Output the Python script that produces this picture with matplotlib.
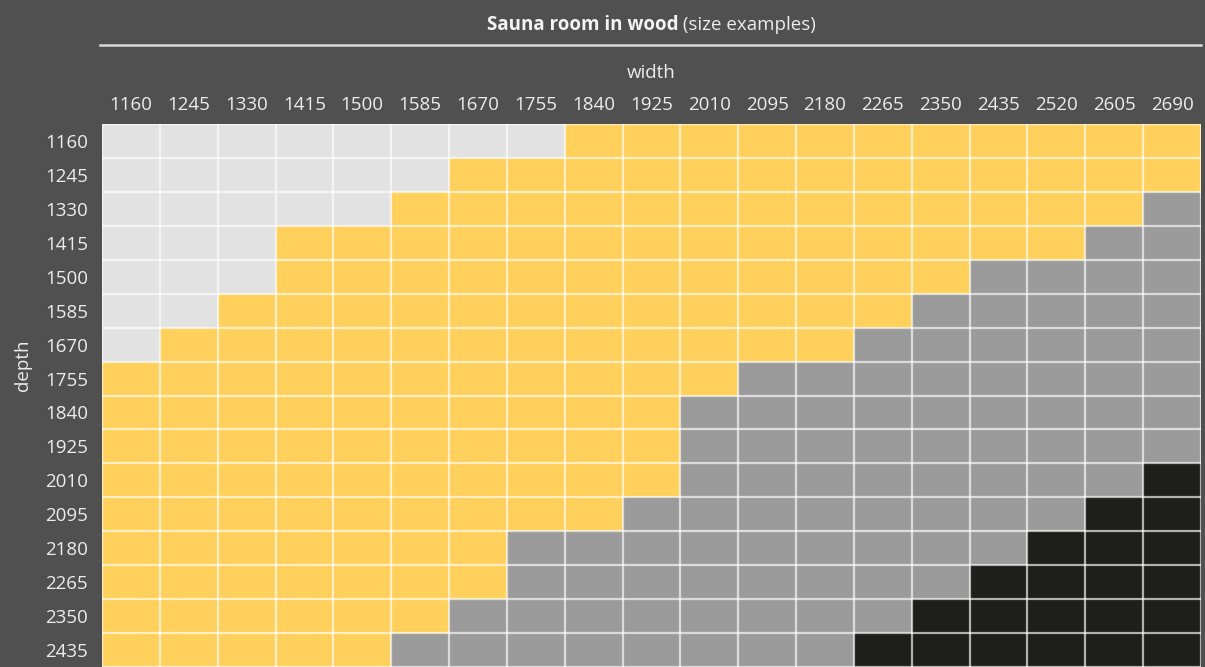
import matplotlib
matplotlib.use("Agg")
import matplotlib.pyplot as plt
import numpy as np
from matplotlib.colors import ListedColormap
from matplotlib.lines import Line2D

# ---- data ----
widths = [1160, 1245, 1330, 1415, 1500, 1585, 1670, 1755, 1840, 1925,
          2010, 2095, 2180, 2265, 2350, 2435, 2520, 2605, 2690]
depths = [1160, 1245, 1330, 1415, 1500, 1585, 1670, 1755, 1840, 1925,
          2010, 2095, 2180, 2265, 2350, 2435]
# number of cells per category along each depth row (left to right)
too_small_counts = [8, 6, 5, 3, 3, 2, 1, 0, 0, 0, 0, 0, 0, 0, 0, 0]
yellow_counts    = [11, 13, 13, 14, 12, 12, 12, 11, 10, 10, 10, 9, 7, 7, 6, 5]
grey_counts      = [0, 0, 1, 2, 4, 5, 6, 8, 9, 9, 8, 8, 9, 8, 8, 8]
black_counts     = [0, 0, 0, 0, 0, 0, 0, 0, 0, 0, 1, 2, 3, 4, 5, 6]

rows = []
for a, b, c, d in zip(too_small_counts, yellow_counts, grey_counts, black_counts):
    rows.append([0] * a + [1] * b + [2] * c + [3] * d)
cat = np.array(rows)

BG = "#505050"
TXT = "#ececec"
cmap = ListedColormap(["#e2e2e2", "#ffd15c", "#9b9b9b", "#1e1e1c"])
FS = 13.5

W, H = 1205, 667
fig = plt.figure(figsize=(W / 100, H / 100), dpi=100, facecolor=BG)
plt.rcParams['font.family'] = ['Open Sans', 'DejaVu Sans']

ax = fig.add_axes([102 / W, 0, (1201 - 102) / W, (H - 124) / H])
ax.set_facecolor(BG)
nx, ny = len(widths), len(depths)
ax.pcolormesh(np.arange(nx + 1), np.arange(ny + 1), cat, cmap=cmap,
              vmin=-0.5, vmax=3.5)
for x in range(nx + 1):
    ax.axvline(x, color=(1, 1, 1, 0.65), lw=1.6)
for y in range(ny + 1):
    ax.axhline(y, color=(1, 1, 1, 0.65), lw=1.6)
ax.set_xlim(0, nx)
ax.set_ylim(ny, 0)
for s in ax.spines.values():
    s.set_visible(False)

ax.xaxis.tick_top()
ax.set_xticks(np.arange(nx) + 0.5)
ax.set_xticklabels([str(w) for w in widths])
ax.set_yticks(np.arange(ny) + 0.5)
ax.set_yticklabels([str(d) for d in depths])
ax.tick_params(length=0, colors=TXT, labelsize=FS)
ax.tick_params(axis='x', pad=7)
ax.tick_params(axis='y', pad=10)
for lab in ax.get_yticklabels():
    lab.set_va('center_baseline')

cx = (102 + 1201) / 2 / W
fig.text(cx, 1 - 71 / H, "width", ha='center', va='center_baseline', color=TXT, fontsize=FS)
fig.text(23 / W, 1 - 365 / H, "depth", ha='center', va='center', color=TXT,
         fontsize=FS, rotation=90)

# title in two parts
fig.canvas.draw()
r = fig.canvas.get_renderer()
t1 = fig.text(0, 1 - 23 / H, "Sauna room in wood", ha='left', va='center_baseline',
              color="#f4f4f4", fontsize=FS, fontweight='bold')
t2 = fig.text(0, 1 - 23 / H, " (size examples)", ha='left', va='center_baseline',
              color=TXT, fontsize=FS)
w1 = t1.get_window_extent(r).width
w2 = t2.get_window_extent(r).width
x0 = cx * W - (w1 + w2) / 2
t1.set_x(x0 / W)
t2.set_x((x0 + w1) / W)

fig.add_artist(Line2D([100 / W, 1201 / W], [1 - 45 / H, 1 - 45 / H],
                      color="#d8d8d8", lw=1.8, transform=fig.transFigure))

fig.savefig("out.png", dpi=100, facecolor=BG)
